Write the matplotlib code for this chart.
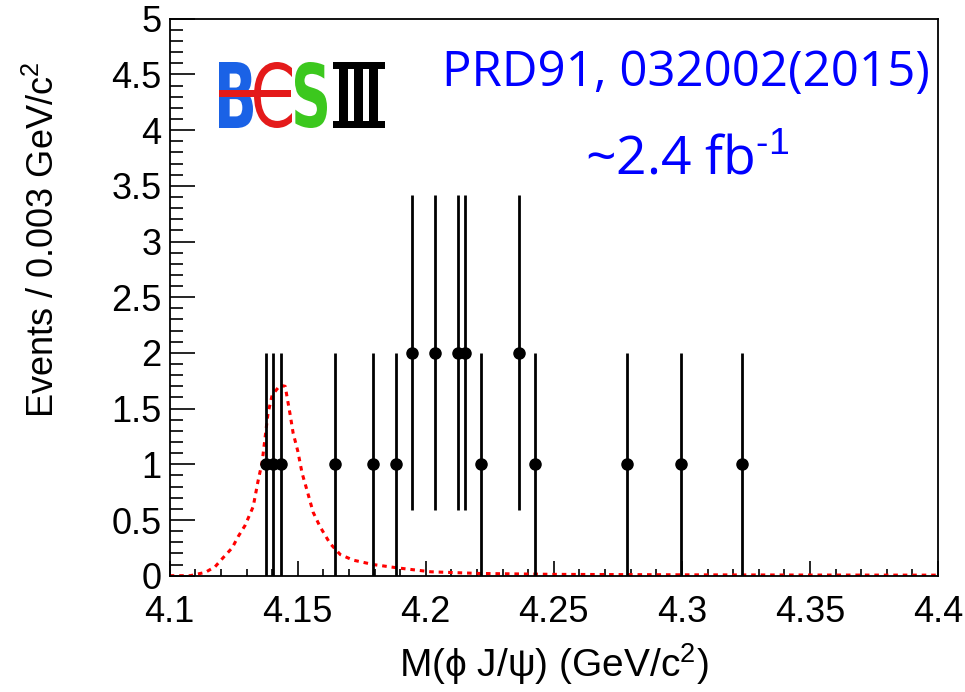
import numpy as np
import matplotlib.pyplot as plt
from matplotlib.font_manager import FontProperties
from matplotlib.textpath import TextPath
from matplotlib.patches import PathPatch, Rectangle
from matplotlib.transforms import Affine2D
from matplotlib.ticker import MultipleLocator, FormatStrFormatter

plt.rcParams['font.family'] = ['Liberation Sans', 'DejaVu Sans']
plt.rcParams['mathtext.fontset'] = 'custom'
plt.rcParams['mathtext.rm'] = 'Liberation Sans'
plt.rcParams['mathtext.it'] = 'Liberation Sans:italic'

# data points: bin centres of M(phi J/psi) and event counts
mass = [4.1375, 4.1405, 4.1435, 4.1645, 4.1795, 4.1885, 4.1945, 4.2035,
        4.2125, 4.2155, 4.2215, 4.2365, 4.2425, 4.2785, 4.2995, 4.3235]
events = [1, 1, 1, 1, 1, 1, 2, 2, 2, 2, 1, 2, 1, 1, 1, 1]

# signal shape (red dotted curve)
sig_x = [4.100, 4.108, 4.1139, 4.1177, 4.1208, 4.1244, 4.1267, 4.1294,
         4.1326, 4.1345, 4.1361, 4.1373, 4.1384, 4.1400, 4.1431, 4.1451,
         4.1470, 4.1482, 4.1500, 4.1517, 4.1537, 4.1560, 4.1587, 4.1626,
         4.1666, 4.1716, 4.1795, 4.1890, 4.2020, 4.2210, 4.2500, 4.3000,
         4.3500, 4.4000]
sig_y = [0.0, 0.0, 0.03, 0.08, 0.16, 0.25, 0.35, 0.45,
         0.62, 0.85, 1.02, 1.25, 1.46, 1.62, 1.71, 1.70,
         1.45, 1.28, 1.12, 0.92, 0.76, 0.57, 0.44, 0.29,
         0.19, 0.14, 0.10, 0.07, 0.035, 0.02, 0.012, 0.008,
         0.006, 0.005]

W, H = 965, 692
fig = plt.figure(figsize=(W / 100, H / 100), dpi=100)
ax = fig.add_axes([169.7 / W, 1 - 575.7 / H, (938 - 169.7) / W, (575.7 - 18.7) / H])

ax.plot(sig_x, sig_y, color='red', lw=2.2, ls=(0, (1.5, 1.6)), zorder=2)
ax.errorbar(mass, events, yerr=np.sqrt(events), fmt='o', color='black',
            ms=8, elinewidth=2, capsize=0, zorder=3)

ax.set_xlim(4.1, 4.4)
ax.set_ylim(0, 5)
ax.xaxis.set_major_locator(MultipleLocator(0.05))
ax.xaxis.set_minor_locator(MultipleLocator(0.01))
ax.yaxis.set_major_locator(MultipleLocator(0.5))
ax.yaxis.set_minor_locator(MultipleLocator(0.1))
ax.xaxis.set_major_formatter(FormatStrFormatter('%g'))
ax.yaxis.set_major_formatter(FormatStrFormatter('%g'))
ax.tick_params(which='both', direction='in', top=False, right=False,
               labelsize=26, width=1.2)
ax.tick_params(axis='x', which='major', length=11, pad=14)
ax.tick_params(axis='x', which='minor', length=5)
ax.tick_params(axis='y', which='major', length=18, pad=6)
ax.tick_params(axis='y', which='minor', length=9)
for s in ax.spines.values():
    s.set_linewidth(1.3)

ax.set_xlabel(r'M($\mathregular{\phi}$ J/$\mathregular{\psi}$) (GeV/c$^{\mathregular{2}}$)',
              fontsize=28, labelpad=8)
ax.set_ylabel(r'Events / 0.003 GeV/c$^{\mathregular{2}}$', fontsize=26)
ax.yaxis.set_label_coords(-0.14, 0.603)

fig.text(686 / W, 1 - 86 / H, 'PRD91, 032002(2015)', color='#0000ff',
         fontsize=35.5, ha='center', va='baseline', family='Open Sans')
fig.text(687 / W, 1 - 174 / H, r'~2.4 fb$^{\text{-1}}$', color='#0000ff',
         fontsize=38.5, ha='center', va='baseline', family='Open Sans')

# BESIII logo
logo = fig.add_axes([215 / W, 1 - 132 / H, 175 / W, 72 / H])
logo.set_xlim(0, 175)
logo.set_ylim(0, 72)
logo.axis('off')


def glyph(ch, x0, x1, y0, y1, color, weight='bold'):
    tp = TextPath((0, 0), ch, size=1, prop=FontProperties(family='DejaVu Sans', weight=weight))
    ext = tp.get_extents()
    tr = (Affine2D().translate(-ext.x0, -ext.y0)
          .scale((x1 - x0) / ext.width, (y1 - y0) / ext.height)
          .translate(x0, y0))
    logo.add_patch(PathPatch(tr.transform_path(tp), fc=color, ec='none'))


glyph('B', 4, 38, 4, 70, '#1a62e6')
glyph('C', 39, 77, 4, 70, '#e41a1a', weight='normal')
logo.add_patch(Rectangle((4, 35), 72, 7, fc='#e41a1a', ec='none'))
glyph('S', 80, 112, 4, 70, '#3cc81e')
logo.add_patch(Rectangle((118, 4), 52, 7, fc='black', ec='none'))
logo.add_patch(Rectangle((118, 63), 52, 7, fc='black', ec='none'))
for bx in (124, 139, 154):
    logo.add_patch(Rectangle((bx, 4), 9, 66, fc='black', ec='none'))

fig.savefig('out.png', dpi=100)
